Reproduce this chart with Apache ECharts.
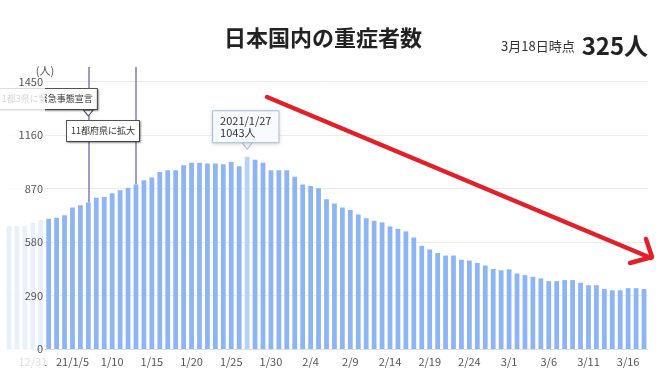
<!DOCTYPE html>
<html lang="ja">
<head>
<meta charset="utf-8">
<title>日本国内の重症者数</title>
<script src="https://cdn.jsdelivr.net/npm/echarts@6/dist/echarts.min.js"></script>
<style>
  html, body { margin: 0; padding: 0; background: #fff; }
  #chart { width: 659px; height: 377px; }
</style>
</head>
<body>
<div id="chart"></div>
<script>
// daily counts, 2020/12/28 - 2021/3/18
const dates = [
  '12/28','12/29','12/30','12/31',
  '1/1','1/2','1/3','1/4','1/5','1/6','1/7','1/8','1/9','1/10',
  '1/11','1/12','1/13','1/14','1/15','1/16','1/17','1/18','1/19','1/20',
  '1/21','1/22','1/23','1/24','1/25','1/26','1/27','1/28','1/29','1/30','1/31',
  '2/1','2/2','2/3','2/4','2/5','2/6','2/7','2/8','2/9','2/10',
  '2/11','2/12','2/13','2/14','2/15','2/16','2/17','2/18','2/19','2/20',
  '2/21','2/22','2/23','2/24','2/25','2/26','2/27','2/28',
  '3/1','3/2','3/3','3/4','3/5','3/6','3/7','3/8','3/9','3/10',
  '3/11','3/12','3/13','3/14','3/15','3/16','3/17','3/18'
];
const severeCounts = [
  667, 667, 667, 685,
  700, 707, 712, 726, 768, 780, 795, 820, 825, 845,
  861, 875, 893, 915, 930, 960, 970, 970, 997, 1011,
  1011, 1006, 1006, 1002, 1015, 991, 1043, 1027, 1011, 970, 970,
  970, 935, 893, 884, 872, 812, 790, 768, 754, 730,
  709, 696, 687, 665, 652, 638, 605, 560, 540, 520,
  507, 507, 484, 480, 467, 453, 434, 427,
  432, 410, 401, 392, 383, 368, 368, 374, 374, 359,
  346, 346, 326, 319, 319, 330, 330, 325
];
const yTickMax = 1450;
const yStep = 290;
const events = [
  { date: '1/7', text: '1都3県に緊急事態宣言' },
  { date: '1/13', text: '11都府県に拡大' }
];
const tipDate = '1/27';
const tipYear = '2021';
const yearStartTick = '1/5';

const FONT = '"Noto Sans CJK JP", "Noto Sans", sans-serif';
const Y_TOP = 1530;   // the plot runs a little above the last tick, event lines reach it
const valueAt = d => severeCounts[dates.indexOf(d)];

const chart = echarts.init(document.getElementById('chart'));

const barData = severeCounts.map((v, i) =>
  dates[i] === tipDate ? { value: v, itemStyle: { color: '#b6d1fa' } } : v);

const boxOffsets = [[-41, 32], [-33, 64]];
const eventBoxes = events.map((e, i) => ({
  coord: [e.date, Y_TOP],
  symbol: 'rect',
  symbolSize: 1,
  itemStyle: { color: 'transparent', borderWidth: 0 },
  label: {
    show: true,
    position: 'inside',
    offset: boxOffsets[i],
    formatter: e.text,
    color: '#333',
    fontSize: 9,
    fontFamily: FONT,
    align: 'center',
    verticalAlign: 'middle',
    backgroundColor: '#fff',
    borderColor: '#555',
    borderWidth: 1,
    padding: [6, 4, 5, 4],
    shadowColor: 'rgba(0,0,0,0.35)',
    shadowBlur: 2,
    shadowOffsetX: 1,
    shadowOffsetY: 1
  }
}));

const pointers = [
  {
    coord: [events[0].date, Y_TOP],
    symbol: 'triangle', symbolRotate: 180, symbolSize: [10, 6], symbolOffset: [0, 46],
    itemStyle: { color: '#fff', borderColor: '#555', borderWidth: 1 },
    label: { show: false }
  },
  {
    coord: [tipDate, valueAt(tipDate)],
    symbol: 'triangle', symbolRotate: 180, symbolSize: [11, 7], symbolOffset: [0, -11],
    itemStyle: { color: '#f7fafe', borderColor: '#b3c5dc', borderWidth: 1 },
    label: { show: false }
  }
];

const tipBox = {
  coord: [tipDate, valueAt(tipDate)],
  symbol: 'rect',
  symbolSize: 1,
  itemStyle: { color: 'transparent', borderWidth: 0 },
  label: {
    show: true,
    position: 'inside',
    offset: [-34, -30],
    formatter: tipYear + '/' + tipDate + '\n' + valueAt(tipDate) + '人',
    align: 'left',
    verticalAlign: 'middle',
    color: '#333',
    fontSize: 11,
    lineHeight: 12,
    fontFamily: FONT,
    backgroundColor: '#f7fafe',
    borderColor: '#b3c5dc',
    borderWidth: 1,
    padding: [4, 7, 3, 7],
    shadowColor: 'rgba(0,0,0,0.15)',
    shadowBlur: 4,
    shadowOffsetY: 1
  }
};

const lastDate = dates[dates.length - 1].split('/');
const lastValue = severeCounts[severeCounts.length - 1];

const yLabelFmt = v => v > yTickMax ? '' : String(v);

const option = {
  animation: false,
  title: [
    {
      text: '日本国内の重症者数',
      left: 219,
      top: 22,
      textStyle: { fontSize: 22, fontWeight: 'bold', color: '#222', fontFamily: FONT }
    },
    {
      text: '{a|' + lastDate[0] + '月' + lastDate[1] + '日時点}{b|' + lastValue + '人}',
      left: 496,
      top: 29,
      textStyle: {
        rich: {
          a: { fontSize: 13, fontWeight: 'normal', color: '#333', fontFamily: FONT, verticalAlign: 'middle' },
          b: { fontSize: 24, fontWeight: 'bold', color: '#222', fontFamily: FONT,
               verticalAlign: 'middle', padding: [0, 0, 0, 7] }
        }
      }
    }
  ],
  grid: { left: 5, right: 11, top: 67, bottom: 28 },
  xAxis: {
    type: 'category',
    data: dates,
    axisTick: { show: false },
    axisLine: { lineStyle: { color: '#d9e1ec' } },
    axisLabel: {
      interval: (i) => i % 5 === 3,
      formatter: (v) => v === yearStartTick ? '21/' + v : v,
      color: '#555',
      fontSize: 11,
      fontFamily: FONT,
      margin: 7
    }
  },
  yAxis: [
    {
      type: 'value',
      position: 'left',
      min: 0, max: Y_TOP, interval: yStep,
      axisLabel: { show: false },
      axisLine: { show: false },
      axisTick: { show: false },
      splitLine: { showMaxLine: false, lineStyle: { color: '#ececec' } }
    },
    {
      type: 'value',
      position: 'left',
      offset: -40,
      z: 20,
      min: 0, max: Y_TOP, interval: yStep,
      name: '(人)',
      nameGap: -13,
      nameTextStyle: { color: '#555', fontSize: 11, fontFamily: FONT },
      axisLine: { show: false },
      axisTick: { show: false },
      splitLine: { show: false },
      axisLabel: { color: '#555', fontSize: 11, fontFamily: FONT, margin: 2, formatter: yLabelFmt }
    }
  ],
  series: [{
    type: 'bar',
    yAxisIndex: 0,
    data: barData,
    barWidth: '60%',
    itemStyle: { color: '#8db4f4' },
    markLine: {
      silent: true,
      symbol: 'none',
      z: 1,
      label: { show: false },
      lineStyle: { color: '#8077b8', width: 1.5, type: 'solid' },
      data: events.map(e => [
        { coord: [e.date, valueAt(e.date)] },
        { coord: [e.date, Y_TOP] }
      ])
    },
    markPoint: {
      silent: true,
      data: eventBoxes.concat([tipBox]).concat(pointers)
    }
  }],
  graphic: [
    {
      type: 'rect',
      z: 10,
      shape: { x: 0, y: 60, width: 45, height: 317 },
      style: { fill: 'rgba(255,255,255,0.8)' }
    },
    {
      type: 'polyline',
      z: 30,
      shape: { points: [[267, 97], [651, 258]] },
      style: { stroke: '#e3202a', lineWidth: 4.5, lineCap: 'round' }
    },
    {
      type: 'polyline',
      z: 30,
      shape: { points: [[646, 239], [652, 257], [630, 263]] },
      style: { stroke: '#e3202a', lineWidth: 4.5, lineCap: 'round', lineJoin: 'round', fill: null }
    }
  ]
};

chart.setOption(option);
</script>
</body>
</html>
